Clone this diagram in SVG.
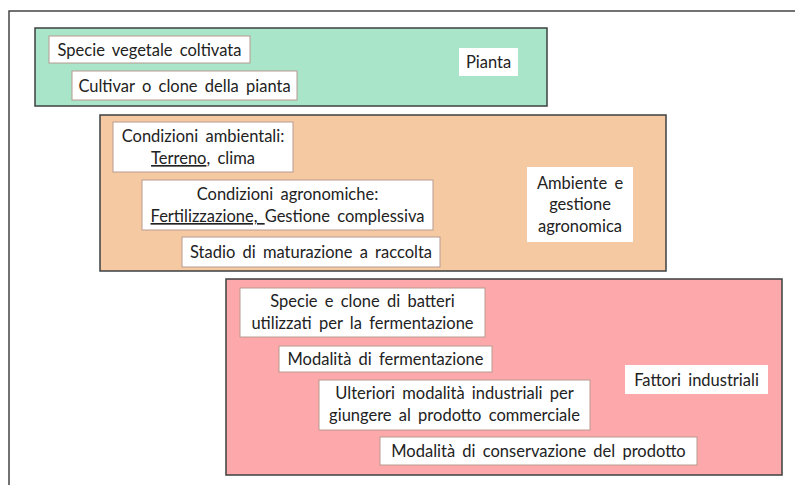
<svg xmlns="http://www.w3.org/2000/svg" width="795" height="485" viewBox="0 0 795 485">
<style>
.panel{stroke:#3d4040;stroke-width:1.5}
.box{fill:#ffffff;stroke:#b89a90;stroke-width:1}
.lbl{fill:#ffffff}
text{font-family:Lato,"Open Sans","Liberation Sans",sans-serif;font-size:16.5px;fill:#222222;text-anchor:middle;word-spacing:3px}
.u{text-decoration:underline}
</style>
<rect width="795" height="485" fill="#ffffff"/>
<g id="frame">
<path d="M9 485 V11 H795" fill="none" stroke="#444" stroke-width="1.5"/>
</g>
<g id="pianta">
<rect class="panel" x="35" y="28" width="512" height="78" fill="#a9e5c9"/>
<rect class="box" x="49" y="36" width="201" height="27"/>
<text x="149.5" y="55.5">Specie vegetale coltivata</text>
<rect class="box" x="72" y="71" width="225" height="29"/>
<text x="184.5" y="91.5">Cultivar o clone della pianta</text>
<rect class="lbl" x="459" y="48" width="59" height="28"/>
<text x="488.5" y="68">Pianta</text>
</g>
<g id="ambiente">
<rect class="panel" x="100" y="115" width="566" height="156" fill="#f5caa2"/>
<rect class="box" x="113" y="122" width="180" height="50"/>
<text x="203" y="142">Condizioni ambientali:</text>
<text x="203" y="164"><tspan class="u">Terreno</tspan>, clima</text>
<rect class="box" x="142" y="180" width="291" height="50"/>
<text x="287.5" y="200">Condizioni agronomiche:</text>
<text x="287.5" y="222"><tspan class="u">Fertilizzazione, </tspan>Gestione complessiva</text>
<rect class="box" x="182" y="237" width="258" height="30"/>
<text x="311" y="258">Stadio di maturazione a raccolta</text>
<rect class="lbl" x="527" y="167" width="106" height="75"/>
<text x="580" y="189">Ambiente e</text>
<text x="580" y="210">gestione</text>
<text x="580" y="232">agronomica</text>
</g>
<g id="industriali">
<rect class="panel" x="226" y="279" width="556" height="196" fill="#fda8aa"/>
<rect class="box" x="240" y="288" width="245" height="49"/>
<text x="362.5" y="307">Specie e clone di batteri</text>
<text x="362.5" y="329">utilizzati per la fermentazione</text>
<rect class="box" x="279" y="346" width="213" height="26"/>
<text x="385.5" y="364.5">Modalità di fermentazione</text>
<rect class="box" x="319" y="380" width="271" height="50"/>
<text x="454.5" y="399">Ulteriori modalità industriali per</text>
<text x="454.5" y="421">giungere al prodotto commerciale</text>
<rect class="box" x="380" y="437" width="317" height="28"/>
<text x="538.5" y="456.5">Modalità di conservazione del prodotto</text>
<rect class="lbl" x="625" y="365" width="143" height="29"/>
<text x="696.5" y="385.5">Fattori industriali</text>
</g>
</svg>
